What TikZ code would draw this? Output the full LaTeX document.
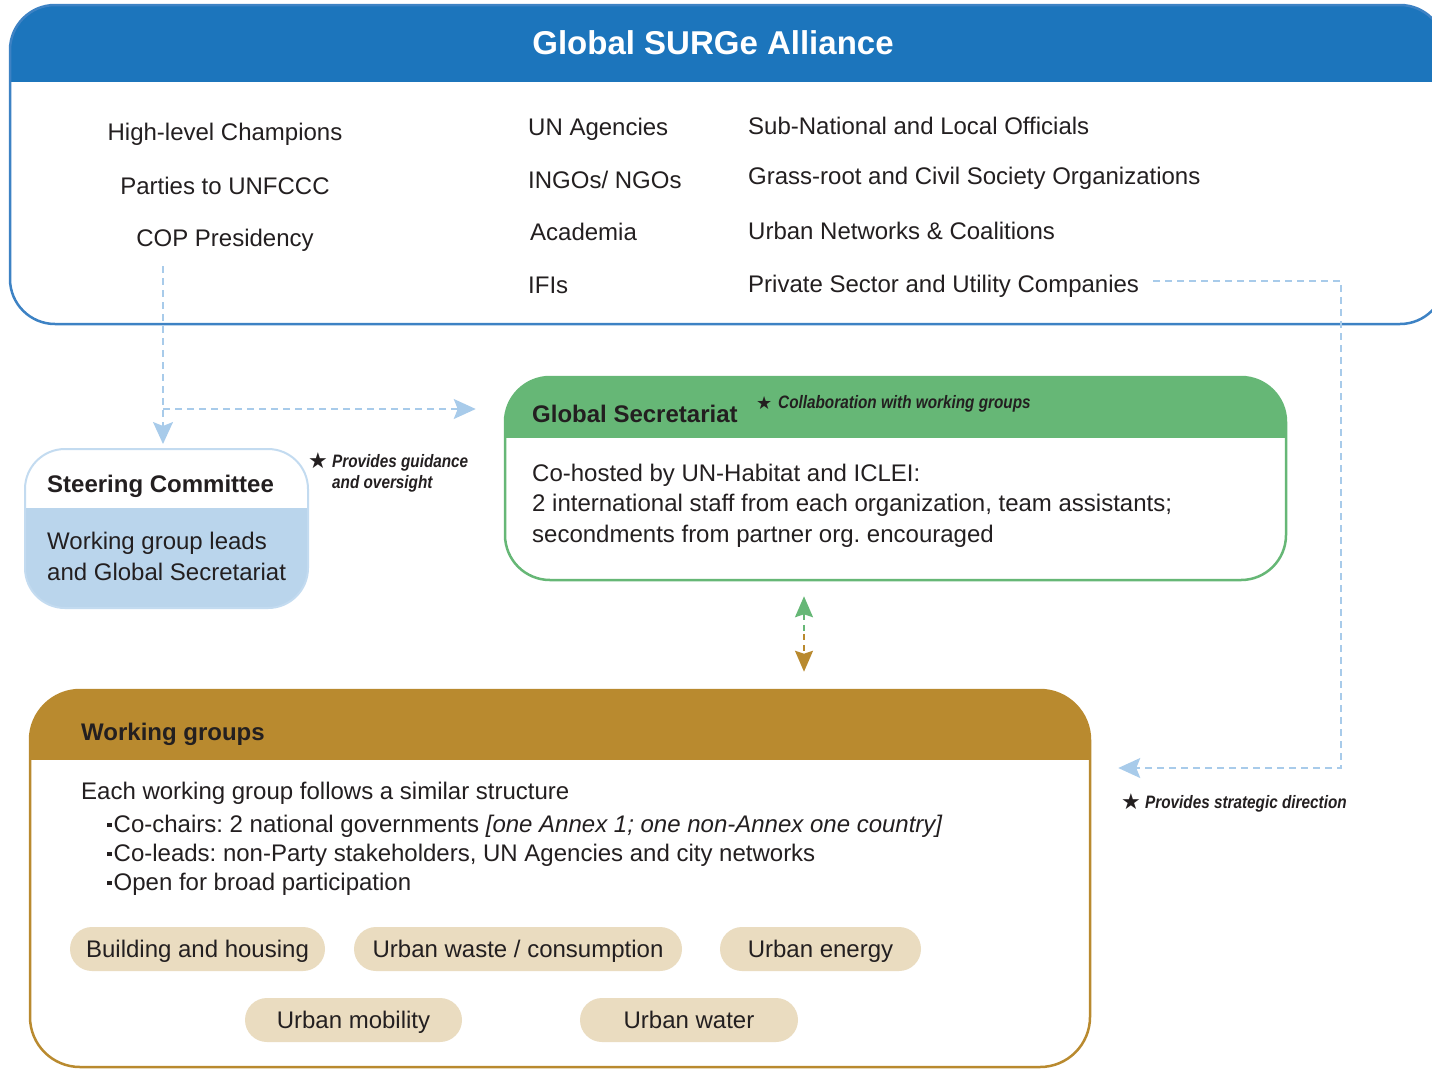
\documentclass[tikz,border=0pt]{standalone}
\usepackage{fontspec}
\setmainfont{Liberation Sans}
\newfontfamily\notefont[FakeStretch=0.85]{Liberation Sans}
\newfontfamily\symfont{DejaVu Sans}
\usetikzlibrary{arrows.meta}
\definecolor{surgeblue}{HTML}{1C75BC}
\definecolor{lineblue}{HTML}{3D82C4}
\definecolor{dashblue}{HTML}{A8CBEA}
\definecolor{scfill}{HTML}{BAD5EC}
\definecolor{scline}{HTML}{C3DBF0}
\definecolor{gsgreen}{HTML}{66B776}
\definecolor{wggold}{HTML}{B98A2F}
\definecolor{pillfill}{HTML}{EADCC0}
\definecolor{ink}{HTML}{231F20}
\frenchspacing
\begin{document}
\frenchspacing
\begin{tikzpicture}[x=1pt,y=-1pt,
  every node/.style={inner sep=0pt, text=ink},
  box/.style={rectangle, rounded corners=#1, line width=2.5pt, fill=white},
  body/.style={font=\fontsize{24}{29}\selectfont},
  head/.style={font=\fontsize{24}{29}\selectfont\bfseries},
  bigtitle/.style={font=\fontsize{33}{38}\selectfont\bfseries, text=white},
  note/.style={font=\notefont\fontsize{18}{20}\selectfont\bfseries\itshape},
  star/.style={font=\symfont\fontsize{22}{22}\selectfont},
  pill/.style={body, fill=pillfill, rounded corners=22pt, minimum height=44pt, text height=17.2pt, text depth=0pt},
  dashconn/.style={draw=dashblue, line width=1.6pt, dash pattern=on 7pt off 5pt},
  bluetip/.style={-{Stealth[length=22pt,width=20pt,inset=4pt]}},
  bul/.style={body, anchor=base west}
]
\useasboundingbox (0,0) rectangle (1432,1069);
\clip (0,0) rectangle (1432,1069);

% ---------- Global SURGe Alliance ----------
\node[box=45pt, draw=lineblue, minimum width=1435pt, minimum height=319pt,
  path picture={\fill[surgeblue, sharp corners] (path picture bounding box.north west) rectangle ([yshift=-77pt]path picture bounding box.north east);}]
  (alliance) at (727.5,164.5) {};
\node[bigtitle, anchor=base] (atitle) at (713,54) {Global SURGe Alliance};

\node[body, anchor=base] (hlc) at (225,140) {High-level Champions};
\node[body, anchor=base] (parties) at (225,194) {Parties to UNFCCC};
\node[body, anchor=base] (cop) at (225,246) {COP Presidency};

\node[body, anchor=base west] (un) at (528,135) {UN Agencies};
\node[body, anchor=base west] (ngo) at (528,188) {INGOs/ NGOs};
\node[body, anchor=base west] (acad) at (530,240) {Academia};
\node[body, anchor=base west] (ifi) at (528,293) {IFIs};

\node[body, anchor=base west] (sub) at (748,134) {Sub-National and Local Officials};
\node[body, anchor=base west] (grass) at (748,184) {Grass-root and Civil Society Organizations};
\node[body, anchor=base west] (netw) at (748,239) {Urban Networks \& Coalitions};
\node[body, anchor=base west] (ps) at (748,292) {Private Sector and Utility Companies};

% ---------- Steering Committee ----------
\node[box=40pt, draw=scline, line width=2pt, minimum width=283pt, minimum height=159pt,
  path picture={\fill[scfill, sharp corners] ([yshift=-59pt]path picture bounding box.north west) rectangle (path picture bounding box.south east);}]
  (sc) at (166.5,528.5) {};
\node[head, anchor=base west] (sctitle) at (47,492) {Steering Committee};
\node[body, anchor=base west] (sc1) at (47,549) {Working group leads};
\node[body, anchor=base west] (sc2) at (47,580) {and Global Secretariat};

\node[star, anchor=base west] (st1) at (308,468) {★};
\node[note, anchor=base west] (n1a) at (332,467) {Provides guidance};
\node[note, anchor=base west] (n1b) at (332,488) {and oversight};

% ---------- Global Secretariat ----------
\node[box=45pt, draw=gsgreen, minimum width=781pt, minimum height=203pt,
  path picture={\fill[gsgreen, sharp corners] (path picture bounding box.north west) rectangle ([yshift=-61pt]path picture bounding box.north east);}]
  (gs) at (895.5,478.5) {};
\node[head, anchor=base west] (gstitle) at (532,422) {Global Secretariat};
\node[star, anchor=base west, font=\symfont\fontsize{18}{18}\selectfont] (st2) at (756,409) {★};
\node[note, anchor=base west] (n2) at (778,408) {Collaboration with working groups};
\node[body, anchor=base west] (gs1) at (532,481) {Co-hosted by UN-Habitat and ICLEI:};
\node[body, anchor=base west] (gs2) at (532,511) {2 international staff from each organization, team assistants;};
\node[body, anchor=base west] (gs3) at (532,542) {secondments from partner org. encouraged};

% ---------- Working groups ----------
\node[box=50pt, draw=wggold, minimum width=1060pt, minimum height=377pt,
  path picture={\fill[wggold, sharp corners] (path picture bounding box.north west) rectangle ([yshift=-70pt]path picture bounding box.north east);}]
  (wg) at (560,878.5) {};
\node[head, anchor=base west] (wgtitle) at (81,740) {Working groups};
\node[body, anchor=base west] (wg0) at (81,799) {Each working group follows a similar structure};
\node[bul] (wg1) at (107,832) {\raisebox{5pt}{\rule{4.5pt}{4.5pt}}\hspace{2pt}Co-chairs: 2 national governments \textit{[one Annex 1; one non-Annex one country]}};
\node[bul] (wg2) at (107,861) {\raisebox{5pt}{\rule{4.5pt}{4.5pt}}\hspace{2pt}Co-leads: non-Party stakeholders, UN Agencies and city networks};
\node[bul] (wg3) at (107,890) {\raisebox{5pt}{\rule{4.5pt}{4.5pt}}\hspace{2pt}Open for broad participation};

\node[pill, minimum width=255pt] (p1) at (197.5,949) {Building and housing};
\node[pill, minimum width=328pt] (p2) at (518,949) {Urban waste / consumption};
\node[pill, minimum width=201pt] (p3) at (820.5,949) {Urban energy};
\node[pill, minimum width=217pt] (p4) at (353.5,1020) {Urban mobility};
\node[pill, minimum width=218pt] (p5) at (689,1020) {Urban water};

\node[star, anchor=base west] (st3) at (1121,809) {★};
\node[note, anchor=base west] (n3) at (1145,808) {Provides strategic direction};

% ---------- connectors ----------
\coordinate (copfoot) at (163,266);
\coordinate (branch) at (163,409);
\draw[dashconn, bluetip, shorten >=4pt] (copfoot) -- (copfoot |- sc.north);
\draw[dashconn, bluetip, shorten >=28pt] (branch) -- (branch -| gs.west);

\coordinate (rc1) at (1341,281);
\coordinate (rc2) at (1341,768);
\draw[dashconn, bluetip, shorten >=27pt] ([xshift=14pt]ps.east |- rc1) -- (rc1) -- (rc2) -- (rc2 -| wg.east);

\coordinate (dmid) at (804,634);
\draw[draw=gsgreen, line width=1.6pt, dash pattern=on 6pt off 5pt, {Stealth[length=21pt,width=18pt,inset=3pt]}-, shorten <=15pt] (dmid |- gs.south) -- (dmid);
\draw[draw=wggold, line width=1.6pt, dash pattern=on 6pt off 5pt, -{Stealth[length=21pt,width=18pt,inset=3pt]}, shorten >=17pt] (dmid) -- (dmid |- wg.north);
\end{tikzpicture}
\end{document}
